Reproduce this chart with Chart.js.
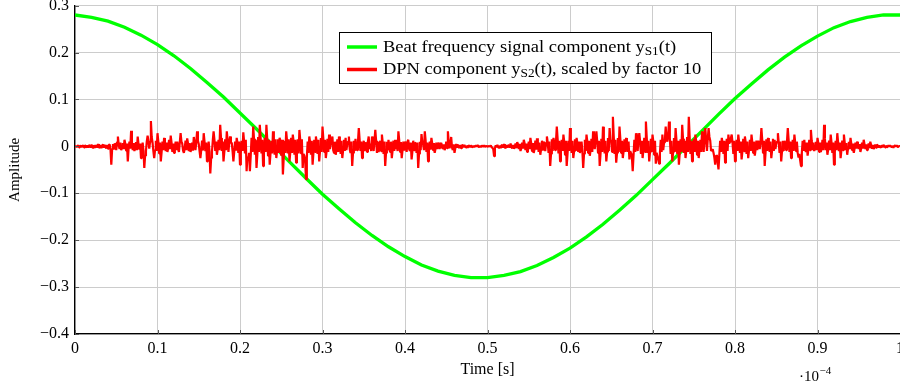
<!DOCTYPE html>
<html><head><meta charset="utf-8">
<script src="https://cdn.jsdelivr.net/npm/chart.js@4.4.1/dist/chart.umd.min.js"></script>
<style>
html,body{margin:0;padding:0;background:#fff;overflow:hidden;}
#wrap{position:relative;width:900px;height:390px;overflow:hidden;background:#fff;}
#c{position:absolute;left:0;top:-10px;}
</style></head><body>
<div id="wrap"><canvas id="c" width="909" height="404"></canvas></div>
<script>
// ---- data (time in units of 1e-4 s) ----
const xTickValues = [0, 0.1, 0.2, 0.3, 0.4, 0.5, 0.6, 0.7, 0.8, 0.9, 1];
const yTickValues = [-0.4, -0.3, -0.2, -0.1, 0, 0.1, 0.2, 0.3];
const seriesNames = ['Beat frequency signal component y_{S1}(t)', 'DPN component y_{S2}(t), scaled by factor 10'];
const xAxisTitle = 'Time [s]';
const yAxisTitle = 'Amplitude';
const xMultiplierBase = '\u00b710';
const xMultiplierExp = '\u22124';

// beat signal, sampled every 0.02 (x1e-4 s)
const beatStep = 0.02;
const beatSignal = [
  0.280, 0.275, 0.267, 0.254, 0.237, 0.217, 0.193, 0.166, 0.136, 0.105,
  0.071, 0.037, 0.002, -0.033, -0.068, -0.102, -0.133, -0.163, -0.190, -0.214,
  -0.235, -0.253, -0.266, -0.275, -0.280, -0.280, -0.275, -0.267, -0.254, -0.237,
  -0.217, -0.193, -0.166, -0.136, -0.105, -0.071, -0.037, -0.002, 0.033, 0.068,
  0.102, 0.133, 0.163, 0.190, 0.214, 0.235, 0.253, 0.266, 0.275, 0.280,
  0.280
];

// DPN component (already scaled by 10), sampled every 0.001 (x1e-4 s), values in units of 1e-3
const dpnStep = 0.001;
const dpnSignalMilli = [
  0,1, -2,1, 2,-2, -1,2, -2,1, 2,-2, 3,-1, -2,2, -3,2, 3,-3, 4,-2, -3,3, -3,1, 2,-3, 5,-2, -3,3, -4,2, 4,-3, 3,-2, -4,3, -5,3, 4,-5,
  -39,-6, 5,-7, 6,4, -8,9, 21,3, -6,8, -8,-3, 7,-6, 14,5, -9,6, -32,-4, 10,-5, 33,6, -8,7, -10,-2, 9,-8, 21,4, -7,6, -25,-5, 8,-9,
  -46,-20, -10,10, 23,12, -5,10, 54,20, 8,-10, -25,-8, 12,-10, 28,10, -15,8, -32,-12, 10,-8, 18,5, -10,8, -12,-4, 14,-6, 23,8, -12,6, -14,-5, 10,-8,
  10,-6, -12,8, 28,10, 6,-9, -14,-4, 12,-8, 17,6, -10,7, -12,-5, 8,-9, 20,6, -8,9, 32,12, 5,-10, -25,-8, 12,-9, 28,10, -10,8, -32,-12, 10,-10,
  -58,-25, -12,12, 32,14, -10,10, -18,-6, 14,-8, 46,18, -10,10, -32,-12, 15,-8, 32,12, -12,9, 21,6, 8,-10, -32,-12, 10,-9, 18,7, -14,10, -39,-14, 12,-10,
  30,10, -15,14, -53,-22, -30,-14, -53,-20, 18,-12, 42,16, -18,14, -46,-18, 20,-12, 46,18, -15,14, -42,-16, 18,-12, 46,16, -20,14, -39,-14, 12,-15, 32,12, -18,15,
  -25,-8, 15,-14, 18,12, -20,14, -60,-24, 12,-14, 32,12, -15,15, -32,-12, 18,-14, 25,10, -18,14, -35,-12, 15,-15, 35,14, -15,15, -46,-16, -20,-30, -70,-25, 10,-14,
  21,8, -18,12, -39,-14, 14,-12, 21,8, -16,14, -32,-10, 18,-12, 42,16, -12,14, -25,-10, 16,-12, 25,-6, 5,12, 21,-8, -14,10, -18,-6, 15,-12, 21,8, -16,12,
  -25,-8, 14,-10, 18,-8, 4,10, 21,-6, -14,10, -42,-14, 12,-10, 16,-6, -8,10, 39,14, -10,10, -25,-8, 12,-10, 8,6, -12,10, 21,-6, 6,-10, 21,8, -10,12,
  35,12, -14,10, -12,-4, 12,-10, 25,8, -16,10, -42,-14, 10,-8, 14,-6, -12,10, -25,-8, 12,-10, 14,-6, 6,-10, 32,12, -12,9, -25,-8, 10,-9, 10,6, -12,10,
  14,-6, -10,8, -28,-10, 12,-8, 8,6, -14,8, -46,-16, 10,-8, 26,8, 4,-8, 32,12, -12,8, -32,-10, 10,-7, 18,6, -8,7, -14,-5, 8,-6, 8,4, -6,5,
  7,-3, -5,4, -8,-3, 10,-4, 32,8, -4,6, 20,-3, -8,4, -14,-4, 5,-3, 4,-2, -3,3, -4,2, 3,-2, 3,-1, -2,2, -3,1, 2,-2, 2,-1, -2,1,
  -2,1, 2,-1, 3,-1, -1,1, -2,1, 1,-1, 2,-1, -1,1, -1,0, 1,-1, 2,-2, -3,-6, -21,-4, 2,-2, 3,-2, -3,2, -4,2, 3,-3, 5,-2, -4,3,
  -3,2, 4,-3, 6,-2, -4,3, -5,-2, 6,-4, 9,4, -6,5, -10,-4, 8,-5, 14,6, -8,6, -12,-5, 10,-6, 18,7, -10,7, -14,-6, 12,-7, 17,8, -12,8,
  -18,-6, 12,-9, 10,5, -10,8, 21,8, -14,10, -42,-16, 15,-10, 18,6, -8,10, 42,16, -15,12, -32,-12, 14,-10, 25,10, -18,12, -42,-16, 12,-10, 39,14, -14,12,
  -25,-10, 15,-10, 18,6, -12,10, -14,-6, 10,-10, -46,-16, 14,-10, 25,10, -14,12, -20,-8, 16,-12, 32,12, -6,14, 32,10, -14,12, -42,-16, 16,-12, 42,16, -15,12,
  -32,-12, 18,-10, 39,14, 10,-12, 63,22, -16,14, -35,-14, 18,-12, 42,16, -14,12, -25,-10, 15,-12, 18,6, -12,10, -28,-10, -15,-22, -53,-20, 14,-12, 28,10, -10,12,
  28,10, -16,12, -25,-8, 18,-12, 53,20, -14,12, -32,-12, 16,-12, 25,10, -18,12, -37,-14, -20,-28, -37,-14, 14,-12, 25,-8, 8,14, 42,16, 10,24, 53,18, -16,12,
  -32,-12, 18,-12, 39,14, -16,12, -39,-14, 15,-12, 46,16, -14,12, -25,-8, 20,-12, 63,22, -16,12, -32,-12, 16,-12, 25,10, -18,12, -25,-8, 14,-12, 32,12, -12,14,
  39,14, -10,16, 39,20, 12,-10, -10,-6, -14,-24, -39,-20, -18,-34, -49,-18, 12,-12, 18,6, -16,12, -35,-12, 16,-10, 25,6, 10,18, 25,8, -16,12, -32,-12, 14,-10,
  25,8, -14,10, -28,-10, 16,-10, 21,8, -16,10, -25,-8, 14,-10, 25,8, -14,10, -20,-6, 12,-8, 12,6, -6,10, 39,14, -14,12, -42,-14, 15,-10, 18,6, -12,10,
  -25,-8, 16,-10, 14,-6, 6,10, 28,8, -14,10, -32,-10, 12,-10, 12,6, -8,10, 39,14, -12,10, -25,-8, 14,-10, 25,8, -10,10, -14,-24, -16,-30, -42,-14, 12,-10,
  14,-6, -12,8, -20,-6, 14,-8, 35,12, -8,8, -10,-4, 10,-8, 18,6, -12,8, -12,-4, 14,-8, 46,16, -8,8, -18,-6, 12,-8, 25,8, -14,8, -39,-12, 12,-8,
  28,8, -10,8, -25,-8, 12,-8, 25,8, -8,7, -18,-5, 10,-6, 18,5, -8,6, -14,-4, 8,-5, 10,4, -6,5, -12,-4, 8,-5, 14,4, -6,4, -8,-3, 6,-4,
  10,3, -5,3, -6,-2, 4,-3, 4,2, -3,2, -3,-1, 3,-2, 3,1, -2,2, -2,-1, 2,-1, 2,-1, -1,1, -3,1, 2,-1, 2,-1, -1,1, 0
];

// ---- styling ----
const SERIF = '"Liberation Serif", "DejaVu Serif", serif';
const COLORS = ['#00ff00', '#ff0000'];
const CANVAS_SHIFT = 10; // canvas is shifted up by this many px

const beatPoints = beatSignal.map((v, i) => ({x: i * beatStep, y: v}));
const dpnPoints = dpnSignalMilli.map((v, i) => ({x: i * dpnStep, y: v / 1000}));

function fmtTick(v) {
  const r = Math.round(v * 10) / 10;
  return (r < 0 ? '\u2212' : '') + String(Math.abs(r));
}

function parseRich(s) {
  const parts = [];
  const re = /_\{([^}]*)\}/g;
  let last = 0, m;
  while ((m = re.exec(s))) {
    if (m.index > last) parts.push({t: s.slice(last, m.index), sub: false});
    parts.push({t: m[1], sub: true});
    last = re.lastIndex;
  }
  if (last < s.length) parts.push({t: s.slice(last), sub: false});
  return parts;
}

const decor = {
  id: 'decor',
  afterDraw(chart) {
    const ctx = chart.ctx;
    const xs = chart.scales.x, ys = chart.scales.y;
    const a = chart.chartArea;
    ctx.save();
    // inner tick marks
    ctx.strokeStyle = '#555';
    ctx.lineWidth = 1;
    ctx.beginPath();
    xTickValues.forEach(v => {
      const px = Math.round(xs.getPixelForValue(v)) + 0.5;
      ctx.moveTo(px, a.bottom); ctx.lineTo(px, a.bottom - 4);
    });
    yTickValues.forEach(v => {
      const py = Math.round(ys.getPixelForValue(v)) + 0.5;
      ctx.moveTo(a.left, py); ctx.lineTo(a.left + 4, py);
    });
    ctx.stroke();

    // legend
    const fs = 16, subFs = 11.5, sx = 1.155;
    const lx = 339.5, ly = 32.5 + CANVAS_SHIFT;
    const rowY = [51.5 + CANVAS_SHIFT, 74 + CANVAS_SHIFT];
    const textX = 383;
    const rows = seriesNames.map(parseRich);
    let maxW = 0;
    rows.forEach(parts => {
      let w = 0;
      parts.forEach(p => {
        ctx.font = (p.sub ? subFs : fs) + 'px ' + SERIF;
        w += ctx.measureText(p.t).width * sx;
      });
      maxW = Math.max(maxW, w);
    });
    const boxW = Math.round(textX + maxW + 10 - lx);
    ctx.fillStyle = '#fff';
    ctx.fillRect(lx, ly, boxW, 51);
    ctx.strokeStyle = '#000';
    ctx.lineWidth = 1;
    ctx.strokeRect(lx, ly, boxW, 51);
    rows.forEach((parts, r) => {
      const by = rowY[r];
      ctx.strokeStyle = COLORS[r];
      ctx.lineWidth = 3.5;
      ctx.beginPath();
      ctx.moveTo(347, by - 4.5); ctx.lineTo(377, by - 4.5);
      ctx.stroke();
      let x = textX;
      ctx.fillStyle = '#000';
      ctx.textBaseline = 'alphabetic';
      ctx.textAlign = 'left';
      parts.forEach(p => {
        ctx.font = (p.sub ? subFs : fs) + 'px ' + SERIF;
        ctx.save();
        ctx.translate(x, p.sub ? by + 3 : by);
        ctx.scale(sx, 1);
        ctx.fillText(p.t, 0, 0);
        ctx.restore();
        x += ctx.measureText(p.t).width * sx;
      });
    });

    // axis multiplier
    ctx.fillStyle = '#000';
    ctx.textAlign = 'left';
    ctx.textBaseline = 'alphabetic';
    ctx.font = '15px ' + SERIF;
    const mx = 799, my = 381 + CANVAS_SHIFT;
    ctx.fillText(xMultiplierBase, mx, my);
    const w = ctx.measureText(xMultiplierBase).width;
    ctx.font = '11px ' + SERIF;
    ctx.fillText(xMultiplierExp, mx + w + 0.5, my - 7);
    ctx.restore();
  }
};

new Chart(document.getElementById('c'), {
  type: 'line',
  data: {
    datasets: [
      {label: seriesNames[0], data: beatPoints, borderColor: COLORS[0], backgroundColor: COLORS[0],
       borderWidth: 3.3, pointRadius: 0, tension: 0, fill: false, order: 2},
      {label: seriesNames[1], data: dpnPoints, borderColor: COLORS[1], backgroundColor: COLORS[1],
       borderWidth: 2.2, pointRadius: 0, tension: 0, fill: false, order: 1, borderJoinStyle: 'bevel'}
    ]
  },
  options: {
    responsive: false,
    animation: false,
    devicePixelRatio: 1,
    layout: {padding: 0},
    plugins: {legend: {display: false}, tooltip: {enabled: false}},
    scales: {
      x: {
        type: 'linear', min: 0, max: 1,
        afterBuildTicks: s => { s.ticks = xTickValues.map(v => ({value: v})); },
        afterFit: s => { s.height = 60; },
        ticks: {font: {family: SERIF, size: 16}, color: '#000', padding: 5, maxRotation: 0, autoSkip: false, callback: v => fmtTick(v)},
        grid: {color: '#cccccc', lineWidth: 1, drawTicks: false},
        border: {color: '#000', width: 1.3},
        title: {display: true, text: xAxisTitle, color: '#000', font: {family: SERIF, size: 16}, padding: {top: 0, bottom: 15}}
      },
      y: {
        type: 'linear', min: -0.4, max: 0.3,
        afterBuildTicks: s => { s.ticks = yTickValues.map(v => ({value: v})); },
        afterFit: s => { s.width = 75; },
        ticks: {font: {family: SERIF, size: 16}, color: '#000', padding: 6, autoSkip: false, callback: v => fmtTick(v)},
        grid: {color: '#cccccc', lineWidth: 1, drawTicks: false},
        border: {color: '#000', width: 1.3},
        title: {display: true, text: yAxisTitle, color: '#000', font: {family: SERIF, size: 15}, padding: {top: 6, bottom: 0}}
      }
    }
  },
  plugins: [decor]
});
</script>
</body></html>
